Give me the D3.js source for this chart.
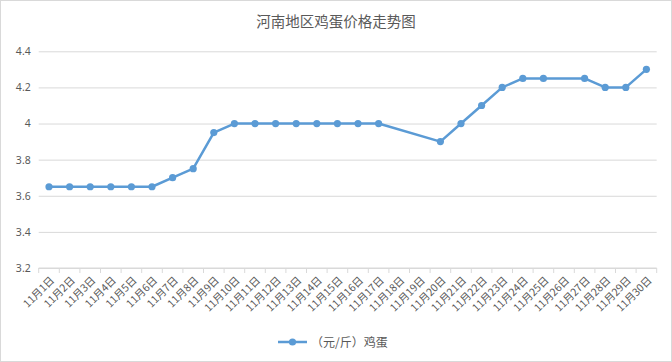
<!DOCTYPE html>
<html>
<head>
<meta charset="utf-8">
<script src="https://d3js.org/d3.v7.min.js"></script>
<style>
body { margin: 0; background: #fff; }
text { font-family: "Noto Sans CJK SC", "Noto Sans", sans-serif; }
</style>
</head>
<body>
<svg id="chart" width="672" height="362"></svg>
<script>
// categories and values (null = no data that day)
var days = d3.range(1, 31).map(function(d) { return '11月' + d + '日'; });
var prices = [3.65, 3.65, 3.65, 3.65, 3.65, 3.65, 3.7, 3.75, 3.95, 4,
              4, 4, 4, 4, 4, 4, 4, null, null, 3.9,
              4, 4.1, 4.2, 4.25, 4.25, null, 4.25, 4.2, 4.2, 4.3];
var yTicks = [3.2, 3.4, 3.6, 3.8, 4, 4.2, 4.4];
var seriesName = '（元/斤）鸡蛋';

var svg = d3.select('#chart');
var plotL = 38.7, plotR = 656.7, plotT = 51.3, plotB = 268;

svg.append('rect')
  .attr('x', 0.5).attr('y', 0.5).attr('width', 671).attr('height', 361)
  .attr('fill', '#fff').attr('stroke', '#d9d9d9');

var xs = d3.scaleBand().domain(days).range([plotL, plotR]).padding(0);
var ys = d3.scaleLinear().domain([3.2, 4.4]).range([plotB, plotT]);

// title
svg.append('text')
  .attr('x', 336).attr('y', 27)
  .attr('text-anchor', 'middle')
  .attr('font-size', 14.5)
  .attr('fill', '#595959')
  .text('河南地区鸡蛋价格走势图');

// gridlines + y labels
var yAxis = svg.append('g')
  .attr('transform', 'translate(' + plotL + ',0)')
  .call(d3.axisLeft(ys).tickValues(yTicks).tickSize(-(plotR - plotL)).tickPadding(8)
    .tickFormat(function(d) { return String(d); }));
yAxis.select('.domain').remove();
yAxis.selectAll('line').attr('stroke', '#d9d9d9');
yAxis.selectAll('text').attr('fill', '#595959').attr('font-size', 10.5)
  .style('font-family', '"Noto Sans", sans-serif');

// x axis with boundary ticks
var xAxis = svg.append('g')
  .attr('transform', 'translate(0,' + plotB + ')');
xAxis.append('line')
  .attr('x1', plotL).attr('x2', plotR)
  .attr('stroke', '#d9d9d9');
xAxis.selectAll('line.tk')
  .data(d3.range(0, days.length + 1))
  .enter().append('line')
  .attr('class', 'tk')
  .attr('x1', function(i) { return plotL + i * xs.step(); })
  .attr('x2', function(i) { return plotL + i * xs.step(); })
  .attr('y1', 0).attr('y2', 5)
  .attr('stroke', '#d9d9d9');
xAxis.selectAll('text')
  .data(days)
  .enter().append('text')
  .attr('transform', function(d) {
    return 'translate(' + (xs(d) + xs.bandwidth() / 2 + 6) + ',13) rotate(-45)';
  })
  .attr('text-anchor', 'end')
  .attr('font-size', 10.5)
  .attr('fill', '#595959')
  .text(function(d) { return d; });

// the original connects straight across missing days
var pts = prices.map(function(v, i) { return v == null ? null : [xs(days[i]) + xs.bandwidth() / 2, ys(v)]; })
  .filter(function(p) { return p; });
svg.append('path')
  .attr('d', d3.line()(pts))
  .attr('fill', 'none')
  .attr('stroke', '#5b9bd5')
  .attr('stroke-width', 2.5)
  .attr('stroke-linejoin', 'round');

svg.selectAll('circle.pt')
  .data(pts)
  .enter().append('circle')
  .attr('class', 'pt')
  .attr('cx', function(p) { return p[0]; })
  .attr('cy', function(p) { return p[1]; })
  .attr('r', 3.6)
  .attr('fill', '#5b9bd5');

// legend
var lg = svg.append('g').attr('transform', 'translate(278,342)');
lg.append('line').attr('x1', 0).attr('x2', 29)
  .attr('stroke', '#5b9bd5').attr('stroke-width', 2.5);
lg.append('circle').attr('cx', 14.5).attr('cy', 0).attr('r', 3.6).attr('fill', '#5b9bd5');
lg.append('text').attr('x', 33).attr('y', 4.5)
  .attr('font-size', 12).attr('fill', '#595959')
  .text(seriesName);
</script>
</body>
</html>
